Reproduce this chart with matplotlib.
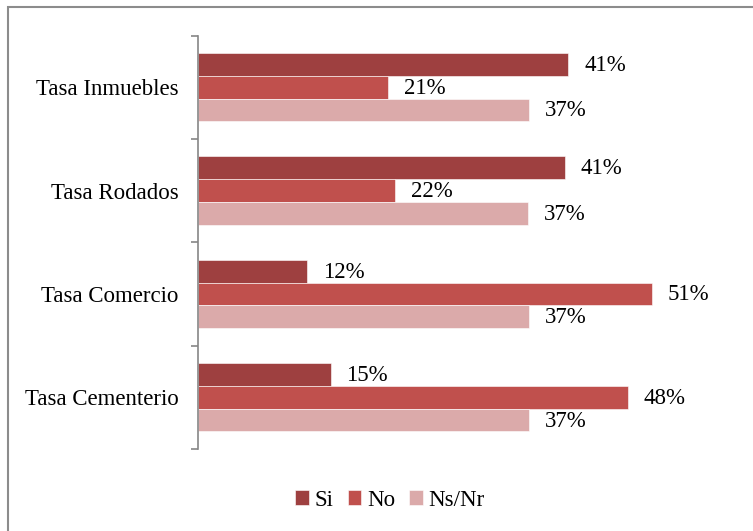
import matplotlib
matplotlib.use("Agg")
import matplotlib.pyplot as plt
from matplotlib.patches import Rectangle
import numpy as np

categories = ["Tasa Inmuebles", "Tasa Rodados", "Tasa Comercio", "Tasa Cementerio"]
series_names = ["Si", "No", "Ns/Nr"]
si = [41.3, 40.9, 12.2, 14.8]
no = [21.2, 22.0, 50.6, 47.9]
nsnr = [36.9, 36.8, 36.9, 36.9]
colors = ["#9E4040", "#C0504D", "#DBAAAA"]

FONT = "Liberation Serif"
FS = 16.5

fig = plt.figure(figsize=(7.53, 5.31), dpi=100)
fig.patches.append(Rectangle((8 / 753, -0.1), 1.2, 1 - 7 / 531 + 0.1,
                             transform=fig.transFigure, fill=False,
                             edgecolor="#8C8C8C", linewidth=1.5))

ax = fig.add_axes([198 / 753, 1 - 449 / 531, 538 / 753, (449 - 35.5) / 531])

y = np.arange(len(categories))
h = 0.22
for k, (vals, name, c) in enumerate(zip([si, no, nsnr], series_names, colors)):
    pos = y + (k - 1) * h
    ax.barh(pos, vals, height=h, color=c, label=name, edgecolor="white", linewidth=0.4)
    for p, v in zip(pos, vals):
        ax.text(v + 1.75, p + 0.01, f"{v:.0f}%", va="center", ha="left",
                fontsize=FS, family=FONT)

ax.set_xlim(0, 60)
ax.set_ylim(len(categories) - 0.5, -0.5)
ax.set_yticks(y)
ax.set_yticklabels(categories, fontsize=FS, family=FONT)
ax.tick_params(axis="y", which="major", length=0, pad=14)
ax.set_yticks(np.arange(-0.5, len(categories)), minor=True)
ax.tick_params(axis="y", which="minor", length=5, width=1.2, color="#868686")
ax.set_xticks([])
for s in ["top", "right", "bottom"]:
    ax.spines[s].set_visible(False)
ax.spines["left"].set_color("#868686")
ax.spines["left"].set_linewidth(1.2)

fig.legend(loc="center", bbox_to_anchor=(390 / 753, 1 - 500 / 531), ncol=3,
           frameon=False, prop={"family": FONT, "size": FS},
           handlelength=0.6, handleheight=0.6, handletextpad=0.25, columnspacing=0.6)

fig.savefig("out.png", dpi=100)
